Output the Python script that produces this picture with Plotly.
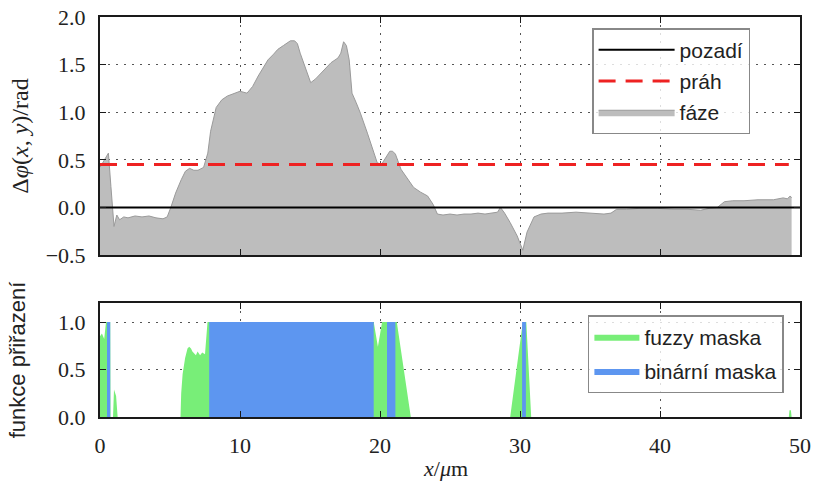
import plotly.graph_objects as go

# ---------------- data ----------------
phase_x = [0, 0.2, 0.45, 0.6, 0.78, 1.0, 1.2, 1.4, 1.7, 2.0, 2.5, 3.0, 3.5, 4.0, 4.5, 4.8,
           5.06, 5.4, 5.8, 6.1, 6.4, 6.7, 7.0, 7.4, 7.7, 7.9, 8.3, 8.7, 9.1, 9.5, 10.0, 10.5,
           10.9, 11.3, 11.7, 12.0, 12.4, 12.7, 13.1, 13.6, 13.9, 14.1, 14.3, 14.7, 15.05, 15.4,
           15.8, 16.2, 16.5, 17.0, 17.2, 17.4, 17.6, 17.8, 18.0, 18.3, 18.6, 19.1, 19.5, 19.8,
           20.1, 20.4, 20.7, 20.9, 21.1, 21.5, 22.0, 22.4, 22.9, 23.4, 23.8, 24.1, 24.5, 25.0,
           25.5, 26.0, 26.5, 27.0, 27.5, 28.0, 28.4, 28.6, 28.9, 29.3, 29.8, 30.2, 30.5, 31.0,
           31.5, 32.0, 33.0, 34.0, 35.0, 36.0, 36.5, 36.9, 37.6, 38.5, 39.8, 41.0, 42.0, 42.9,
           43.5, 44.1, 44.6, 45.2, 46.0, 47.0, 48.1, 48.8, 49.1, 49.3, 49.4]
phase_y = [0.42, 0.47, 0.52, 0.57, 0.22, -0.20, -0.08, -0.13, -0.10, -0.11, -0.09, -0.10, -0.09, -0.11, -0.12, -0.10,
           0.0, 0.15, 0.29, 0.38, 0.41, 0.39, 0.39, 0.42, 0.57, 0.80, 1.05, 1.13, 1.17, 1.19, 1.22, 1.20,
           1.27, 1.38, 1.47, 1.55, 1.61, 1.66, 1.70, 1.75, 1.75, 1.72, 1.62, 1.45, 1.31, 1.35,
           1.41, 1.47, 1.52, 1.57, 1.62, 1.74, 1.70, 1.55, 1.20, 1.10, 0.99, 0.78, 0.60, 0.47,
           0.45, 0.52, 0.59, 0.59, 0.56, 0.40, 0.30, 0.21, 0.16, 0.12, 0.03, -0.07, -0.08, -0.07,
           -0.08, -0.07, -0.07, -0.06, -0.07, -0.06, -0.05, 0.0, -0.06, -0.16, -0.30, -0.45, -0.26, -0.10,
           -0.07, -0.06, -0.06, -0.05, -0.06, -0.07, -0.06, -0.02, -0.02, -0.01, -0.01, -0.02, -0.02, -0.03,
           -0.01, 0.0, 0.06, 0.07, 0.07, 0.08, 0.08, 0.10, 0.09, 0.12, 0.10]
phase_floor = -0.6
threshold = 0.45
background = 0.0

fuzzy_x = [0, 0.14, 0.3, 0.43, 0.73, 0.75, 0.93, 1.0, 1.15, 1.26, 5.75, 5.8, 5.9, 6.08, 6.25,
           6.37, 6.5, 6.6, 6.85, 6.97, 7.15, 7.3, 7.5, 7.68, 19.55, 19.85, 20.15, 21.2, 21.7,
           22.2, 29.3, 29.7, 30.2, 30.45, 30.8, 49.2, 49.25, 49.35, 49.4, 50]
fuzzy_y = [0.85, 0.88, 0.82, 1.0, 1.0, 0.0, 0.0, 0.29, 0.22, 0.0, 0.0, 0.25, 0.45, 0.62, 0.72,
           0.74, 0.72, 0.69, 0.65, 0.69, 0.65, 0.68, 0.66, 1.0, 1.0, 0.74, 1.0, 1.0, 0.5,
           0.0, 0.0, 0.45, 1.0, 1.0, 0.0, 0.0, 0.07, 0.07, 0.0, 0.0]

binary_x = [0, 0.5, 0.73, 7.8, 19.55, 20.5, 21.1, 30.15, 30.42, 50]
binary_y = [0, 1, 0, 1, 0, 1, 0, 1, 0, 0]

x_ticks = [0, 10, 20, 30, 40, 50]
top_y_ticks = [-0.5, 0.0, 0.5, 1.0, 1.5, 2.0]
bot_y_ticks = [0.0, 0.5, 1.0]

# ---------------- figure ----------------
SERIF = "Liberation Serif"
SANS = "Liberation Sans"
GREEN = "#78ee78"
BLUE = "#5d96f0"

fig = go.Figure()

fig.add_trace(go.Scatter(x=[phase_x[0], phase_x[-1]], y=[phase_floor, phase_floor],
                         mode="lines", line=dict(width=0, color="rgba(0,0,0,0)"),
                         showlegend=False, hoverinfo="skip", xaxis="x", yaxis="y"))
fig.add_trace(go.Scatter(x=phase_x, y=phase_y, mode="lines", fill="tonexty",
                         fillcolor="#bdbdbd", line=dict(color="#9a9a9a", width=1),
                         name="fáze", legend="legend", legendgroup="c", legendrank=3,
                         xaxis="x", yaxis="y"))
fig.add_trace(go.Scatter(x=[0, 50], y=[background, background], mode="lines",
                         line=dict(color="black", width=2), name="pozadí",
                         legend="legend", legendgroup="a", legendrank=1,
                         xaxis="x", yaxis="y"))
fig.add_trace(go.Scatter(x=[0, 49.2], y=[threshold, threshold], mode="lines",
                         line=dict(color="#ee2222", width=3, dash="17px,10px"), name="práh",
                         legend="legend", legendgroup="b", legendrank=2,
                         xaxis="x", yaxis="y"))

fig.add_trace(go.Scatter(x=fuzzy_x, y=fuzzy_y, mode="lines", fill="tozeroy",
                         fillcolor=GREEN, line=dict(color=GREEN, width=0),
                         name="fuzzy maska", legend="legend2", legendgroup="f",
                         xaxis="x2", yaxis="y2"))
fig.add_trace(go.Scatter(x=binary_x, y=binary_y, mode="lines", fill="tozeroy",
                         line_shape="hv", fillcolor=BLUE, line=dict(color=BLUE, width=0),
                         name="binární maska", legend="legend2", legendgroup="g",
                         xaxis="x2", yaxis="y2"))

axis_common = dict(
    showline=True, linecolor="#1a1a1a", linewidth=2, mirror="ticks",
    ticks="inside", ticklen=6, tickwidth=1.2, tickcolor="#1a1a1a",
    showgrid=True, gridcolor="#555555", gridwidth=1.3, griddash="2px,6px",
    zeroline=False, automargin=False,
    tickfont=dict(family=SERIF, size=22, color="#222"),
)

fig.update_layout(
    width=814, height=484,
    margin=dict(l=100, r=14, t=17, b=67),
    plot_bgcolor="white", paper_bgcolor="white",
    xaxis=dict(axis_common, domain=[0, 1], anchor="y", range=[0, 50],
               tickvals=x_ticks, showticklabels=False, matches="x2"),
    yaxis=dict(axis_common, domain=[0.405, 1], anchor="x", range=[-0.5, 2.0],
               tickvals=top_y_ticks, tickformat=".1f", ticklabelstandoff=8,
               title=dict(text="Δ<i>φ</i>(<i>x</i>, <i>y</i>)/rad", standoff=10,
                          font=dict(family=SERIF, size=24, color="#222"))),
    xaxis2=dict(axis_common, domain=[0, 1], anchor="y2", range=[0, 50],
                tickvals=x_ticks, ticklabelstandoff=8),
    yaxis2=dict(axis_common, domain=[0, 0.285], anchor="x2", range=[0, 1.2],
                tickvals=bot_y_ticks, tickformat=".1f", ticklabelstandoff=8,
                title=dict(text="funkce přiřazení", standoff=26,
                           font=dict(family=SANS, size=22, color="#222"))),
    legend=dict(x=0.703, y=0.9725, xanchor="left", yanchor="top",
                bgcolor="rgba(255,255,255,0.8)", bordercolor="#888", borderwidth=1.5,
                font=dict(family=SANS, size=21, color="#222"), itemwidth=76,
                traceorder="grouped", tracegroupgap=1),
    legend2=dict(x=0.697, y=0.255, xanchor="left", yanchor="top",
                 bgcolor="rgba(255,255,255,0.8)", bordercolor="#888", borderwidth=1.5,
                 font=dict(family=SANS, size=21, color="#222"), itemwidth=45,
                 traceorder="grouped", tracegroupgap=4),
    annotations=[dict(text="<i>x</i>/<i>μ</i>m", xref="paper", yref="paper",
                      x=0.493, y=-0.13, xanchor="center", yanchor="middle",
                      showarrow=False, font=dict(family=SERIF, size=22, color="#222"))],
)

fig.write_html("out.html")
